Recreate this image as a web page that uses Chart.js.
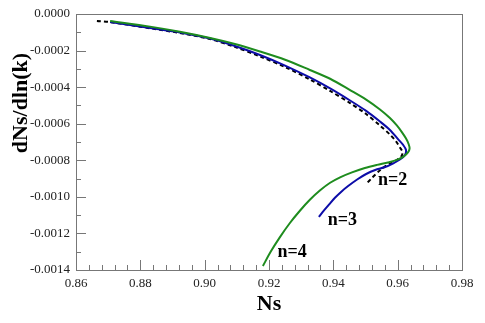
<!DOCTYPE html>
<html>
<head>
<meta charset="utf-8">
<script src="https://cdn.jsdelivr.net/npm/chart.js@4.4.9/dist/chart.umd.min.js"></script>
<style>
  html, body { margin: 0; padding: 0; background: #fff; }
  #wrap { width: 485px; height: 323px; }
</style>
</head>
<body>
<div id="wrap"><canvas id="nsChart" width="485" height="323"></canvas></div>
<script>
// n=4 (green)
const ns4 = [0.8706, 0.8830, 0.8923, 0.9017, 0.9094, 0.9172, 0.9250, 0.9327, 0.9390, 0.9452, 0.9502,
             0.9545, 0.9576, 0.9598, 0.9613, 0.9626, 0.9634, 0.9637,
             0.9632, 0.9620, 0.9598, 0.9570, 0.9536, 0.9498, 0.9458, 0.9421, 0.9390, 0.9359, 0.9327,
             0.9296, 0.9265, 0.9234, 0.9206, 0.9181];
const dn4 = [-0.000038, -0.000069, -0.000097, -0.000131, -0.000164, -0.000205, -0.000250, -0.000306,
             -0.000354, -0.000416, -0.000468, -0.000522, -0.000569, -0.000611, -0.000646, -0.000681,
             -0.000711, -0.000736,
             -0.000757, -0.000777, -0.000798, -0.000812, -0.000825, -0.000842, -0.000866, -0.000893,
             -0.000923, -0.000964, -0.001016, -0.001076, -0.001143, -0.001220, -0.001298, -0.001378];
// n=3 (blue)
const ns3 = [0.8706, 0.8830, 0.8923, 0.9017, 0.9094, 0.9172, 0.9250, 0.9327, 0.9390, 0.9452, 0.9502,
             0.9545, 0.9576, 0.9601, 0.9617, 0.9626,
             0.9623, 0.9607, 0.9585, 0.9561, 0.9530, 0.9502, 0.9474, 0.9446, 0.9424, 0.9405, 0.9387,
             0.9371, 0.9355];
const dn3 = [-0.000044, -0.000077, -0.000101, -0.000134, -0.000175, -0.000224, -0.000282, -0.000347,
             -0.000407, -0.000473, -0.000530, -0.000588, -0.000634, -0.000684, -0.000716, -0.000744,
             -0.000771, -0.000796, -0.000818, -0.000837, -0.000853, -0.000875, -0.000905, -0.000941,
             -0.000973, -0.001005, -0.001041, -0.001074, -0.001110];
// n=2 (black dashed)
const ns2 = [0.8665, 0.8706, 0.8830, 0.8923, 0.9017, 0.9094, 0.9172, 0.9250, 0.9327, 0.9390, 0.9452,
             0.9502, 0.9545, 0.9576, 0.9595, 0.9607, 0.9615,
             0.9612, 0.9598, 0.9576, 0.9558, 0.9539, 0.9520, 0.9502];
const dn2 = [-0.000038, -0.000044, -0.000078, -0.000104, -0.000137, -0.000180, -0.000232, -0.000290,
             -0.000358, -0.000421, -0.000487, -0.000547, -0.000610, -0.000659, -0.000697, -0.000730,
             -0.000755,
             -0.000777, -0.000798, -0.000818, -0.000837, -0.000864, -0.000897, -0.000930];

// curve labels (text + data position)
const curveLabels = ['n=2', 'n=3', 'n=4'];
const labelNs = [0.9584, 0.9428, 0.9272];
const labelDn = [-0.000908, -0.001127, -0.001302];

const X_MIN = 0.86, X_MAX = 0.98, X_STEP = 0.02;
const Y_MIN = -0.0014, Y_MAX = 0, Y_STEP = 0.0002;

const toPts = (xs, ys) => xs.map((v, i) => ({ x: v, y: ys[i] }));
const serif = '"Liberation Serif", "Times New Roman", serif';
const axisGray = '#777';

// 안쪽 눈금, 윗/오른쪽 테두리, 곡선 라벨, y축 제목
const decorations = {
    id: 'decorations',
    afterDraw(chart) {
        const { ctx, chartArea: a, scales: { x, y } } = chart;
        ctx.save();
        ctx.strokeStyle = axisGray;
        ctx.lineWidth = 1;
        ctx.beginPath();
        for (let i = 1; i < 30; i++) {
            const px = Math.round(x.getPixelForValue(X_MIN + i * 0.004)) + 0.5;
            const len = i % 5 === 0 ? 10 : 5;
            ctx.moveTo(px, a.bottom);
            ctx.lineTo(px, a.bottom - len);
        }
        for (let i = 1; i < 14; i++) {
            const py = Math.round(y.getPixelForValue(Y_MIN + i * 0.0001)) + 0.5;
            const len = i % 2 === 0 ? 10 : 5;
            ctx.moveTo(a.left, py);
            ctx.lineTo(a.left + len, py);
        }
        ctx.moveTo(a.left, Math.round(a.top) + 0.5);
        ctx.lineTo(a.right, Math.round(a.top) + 0.5);
        ctx.moveTo(Math.round(a.right) + 0.5, a.top);
        ctx.lineTo(Math.round(a.right) + 0.5, a.bottom);
        ctx.stroke();

        ctx.fillStyle = '#000';
        ctx.font = 'bold 18px ' + serif;
        ctx.textAlign = 'center';
        ctx.textBaseline = 'middle';
        curveLabels.forEach((t, i) => {
            ctx.fillText(t, x.getPixelForValue(labelNs[i]), y.getPixelForValue(labelDn[i]));
        });

        ctx.font = 'bold 22px ' + serif;
        ctx.translate(21, 103);
        ctx.rotate(-Math.PI / 2);
        ctx.fillText('dNs/dln(k)', 0, 0);
        ctx.restore();
    }
};

const ctx = document.getElementById('nsChart').getContext('2d');
new Chart(ctx, {
    type: 'scatter',
    data: {
        datasets: [
            { label: 'n=4', data: toPts(ns4, dn4), borderColor: '#1e8c1e', borderWidth: 2 },
            { label: 'n=3', data: toPts(ns3, dn3), borderColor: '#0c0ca8', borderWidth: 2 },
            { label: 'n=2', data: toPts(ns2, dn2), borderColor: '#000', borderWidth: 2, borderDash: [4, 3] }
        ]
    },
    options: {
        responsive: false,
        animation: false,
        showLine: true,
        elements: {
            point: { radius: 0, hoverRadius: 0 },
            line: { tension: 0.3, fill: false }
        },
        layout: { padding: { top: 14, right: 23, left: 0, bottom: 0 } },
        plugins: { legend: { display: false }, tooltip: { enabled: false } },
        scales: {
            x: {
                type: 'linear',
                min: X_MIN, max: X_MAX,
                grid: { display: false, drawTicks: false },
                border: { display: true, color: axisGray, width: 1 },
                ticks: {
                    stepSize: X_STEP,
                    padding: 6,
                    color: '#222',
                    font: { family: serif, size: 13 },
                    maxRotation: 0,
                    callback: v => v.toFixed(2)
                },
                title: {
                    display: true,
                    text: 'Ns',
                    color: '#000',
                    font: { family: serif, size: 22, weight: 'bold' },
                    padding: { top: 0, bottom: 5 }
                },
                afterFit: s => { s.height = 53; }
            },
            y: {
                type: 'linear',
                min: Y_MIN, max: Y_MAX,
                grid: { display: false, drawTicks: false },
                border: { display: true, color: axisGray, width: 1 },
                ticks: {
                    stepSize: Y_STEP,
                    padding: 6,
                    color: '#222',
                    font: { family: serif, size: 13 },
                    callback: v => (Math.abs(v) < 1e-9 ? 0 : v).toFixed(4)
                },
                afterFit: s => { s.width = 76; }
            }
        }
    },
    plugins: [decorations]
});
</script>
</body>
</html>
